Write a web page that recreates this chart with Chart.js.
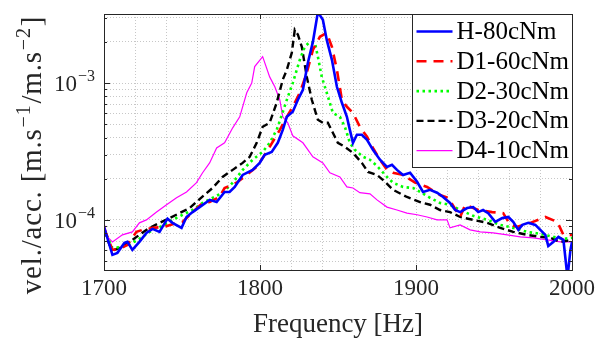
<!DOCTYPE html>
<html><head><meta charset="utf-8">
<script src="https://cdn.jsdelivr.net/npm/chart.js@4/dist/chart.umd.min.js"></script>
<style>html,body{margin:0;padding:0;background:#fff;}canvas{display:block;}</style>
</head><body>
<canvas id="c" width="604" height="342"></canvas>
<script>
// ---- data (frequency [Hz], vel./acc.) ----
const seriesLabels = ['H-80cNm','D1-60cNm','D2-30cNm','D3-20cNm','D4-10cNm'];
const xTickValues = [1700,1800,1900,2000];
const yTickValues = [1e-4,1e-3];
const yTickBase = ['10','10'];
const yTickExp = ['\u22124','\u22123'];
const xTitle = 'Frequency [Hz]';
const yTitleParts = [['vel./acc. [m.s',0],['\u22121',1],['/m.s',0],['\u22122',1],[']',0]];

const dataH = [[1700,8.9e-5],[1705.4,5.55e-5],[1708.6,5.74e-5],[1713.1,6.79e-5],[1715,6.9e-5],[1718.2,6.03e-5],[1722.7,6.9e-5],[1727.2,8.03e-5],[1731.1,8.59e-5],[1735.6,8.17e-5],[1737.5,8.89e-5],[1740.7,1.02e-4],[1743.9,9.51e-5],[1749.7,8.74e-5],[1752.9,1.05e-4],[1756.8,1.14e-4],[1761.3,1.24e-4],[1767.7,1.40e-4],[1772.2,1.35e-4],[1777.3,1.60e-4],[1780.5,1.60e-4],[1783.8,1.74e-4],[1788.9,2.13e-4],[1795.3,2.32e-4],[1799.8,2.61e-4],[1803,2.99e-4],[1807.5,3.14e-4],[1811.4,3.66e-4],[1814.6,4.55e-4],[1817.2,5.67e-4],[1821,6.17e-4],[1824.3,7.55e-4],[1827.5,8.93e-4],[1830.7,1.41e-3],[1833.9,2.00e-3],[1837.1,3.3e-3],[1840.3,2.90e-3],[1842.8,2.07e-3],[1846.1,1.48e-3],[1849.3,9.40e-4],[1852.5,7.18e-4],[1855.7,5.67e-4],[1857.6,4.55e-4],[1859.6,3.66e-4],[1862.1,4.19e-4],[1865.3,4.19e-4],[1868.6,3.85e-4],[1872.4,3.25e-4],[1876.9,2.75e-4],[1881.4,2.44e-4],[1884.6,2.53e-4],[1887.8,2.32e-4],[1891.7,2.13e-4],[1896.2,2.21e-4],[1900.7,1.90e-4],[1904.5,1.60e-4],[1909,1.66e-4],[1913.5,1.58e-4],[1917.4,1.47e-4],[1921.8,1.33e-4],[1925.1,1.18e-4],[1928.3,1.14e-4],[1932.8,1.22e-4],[1936.7,1.24e-4],[1939.9,1.14e-4],[1943,1.18e-4],[1946.3,1.12e-4],[1950.8,9.67e-5],[1955.3,1.03e-4],[1959.2,1.05e-4],[1962.3,9.67e-5],[1965.6,8.45e-5],[1968.2,9.19e-5],[1972,9.51e-5],[1976.5,9.19e-5],[1979.7,8.45e-5],[1982.9,7.77e-5],[1984.8,6.45e-5],[1988,6.9e-5],[1991.3,7.51e-5],[1994.5,7.14e-5],[1997.1,3.8e-5],[1999,6.03e-5],[2000,6.9e-5]];

const dataD1 = [[1700,8.74e-5],[1705.4,6.03e-5],[1709.9,6.14e-5],[1715,6.56e-5],[1720.8,8.17e-5],[1724.7,8.45e-5],[1731.1,8.74e-5],[1738.8,8.89e-5],[1746.5,9.51e-5],[1750.4,9.67e-5],[1756.8,1.14e-4],[1763.2,1.33e-4],[1767.7,1.35e-4],[1774.1,1.47e-4],[1777.3,1.71e-4],[1785,1.87e-4],[1791.5,2.13e-4],[1797.9,2.44e-4],[1804.3,3.14e-4],[1812.7,4.55e-4],[1817.2,5.67e-4],[1821,6.71e-4],[1825.5,8.49e-4],[1830,1.19e-3],[1833.9,1.75e-3],[1838.4,2.18e-3],[1842.8,2.33e-3],[1846.1,1.84e-3],[1849.3,1.25e-3],[1852.5,7.55e-4],[1855.7,6.71e-4],[1859.6,6.06e-4],[1864,4.79e-4],[1868.6,4.05e-4],[1872.4,3.36e-4],[1876.9,2.75e-4],[1881.4,2.32e-4],[1885.2,2.21e-4],[1891.7,2.13e-4],[1899.4,1.87e-4],[1907.1,1.74e-4],[1915.4,1.52e-4],[1920.6,1.45e-4],[1928.3,1.05e-4],[1931.5,1.29e-4],[1939.9,1.18e-4],[1948.8,1.14e-4],[1955.9,1.12e-4],[1960.4,9.19e-5],[1965,8.89e-5],[1973.3,9.51e-5],[1982.9,1.05e-4],[1990.6,9.67e-5],[1994.5,7.77e-5],[2000,7.77e-5]];

const dataD2 = [[1700,8.45e-5],[1705.4,6.24e-5],[1711.8,6.35e-5],[1718.2,6.79e-5],[1724.7,7.51e-5],[1731.1,8.45e-5],[1737.5,9.04e-5],[1743.9,1.00e-4],[1750.4,1.09e-4],[1756.8,1.18e-4],[1763.2,1.33e-4],[1769.6,1.45e-4],[1776,1.58e-4],[1782.5,1.87e-4],[1788.9,2.32e-4],[1795.3,2.75e-4],[1801.7,3.14e-4],[1806.2,3.66e-4],[1810.7,4.55e-4],[1814,5.86e-4],[1817.2,7.55e-4],[1821,1.00e-3],[1825.5,1.48e-3],[1828.7,1.84e-3],[1831.9,2.00e-3],[1835.2,1.97e-3],[1837.1,1.56e-3],[1839.6,1.11e-3],[1842.8,8.49e-4],[1846.7,6.06e-4],[1851.2,5.67e-4],[1854.4,4.79e-4],[1857.6,3.66e-4],[1860.8,3.25e-4],[1866,2.89e-4],[1870.5,2.75e-4],[1875,2.48e-4],[1881.4,2.06e-4],[1885.2,1.87e-4],[1891.7,1.74e-4],[1898.1,1.71e-4],[1902.6,1.60e-4],[1909,1.45e-4],[1915.4,1.33e-4],[1921.8,1.29e-4],[1928.3,1.18e-4],[1936.7,1.07e-4],[1945.6,1.00e-4],[1954,9.19e-5],[1962.3,8.74e-5],[1971.3,8.17e-5],[1979.7,7.90e-5],[1988,7.51e-5],[1994.5,7.26e-5],[2000,7.39e-5]];

const dataD3 = [[1700,8.45e-5],[1703.5,6.56e-5],[1706.7,6.03e-5],[1709.9,6.24e-5],[1716.3,6.9e-5],[1722.7,7.77e-5],[1729.2,8.74e-5],[1735.6,9.51e-5],[1742,1.03e-4],[1748.4,1.12e-4],[1754.9,1.22e-4],[1761.3,1.42e-4],[1769.6,1.71e-4],[1776,2.06e-4],[1782.5,2.32e-4],[1788.9,2.61e-4],[1793.4,2.89e-4],[1797.9,3.66e-4],[1801.7,4.79e-4],[1806.2,5.13e-4],[1810.7,7.18e-4],[1814.6,1.06e-3],[1817.2,1.25e-3],[1820.4,1.67e-3],[1822.3,2.45e-3],[1824.3,2.26e-3],[1826.8,1.84e-3],[1830,1.11e-3],[1833.2,7.55e-4],[1837.1,5.39e-4],[1840.3,5.13e-4],[1843.5,5.13e-4],[1846.7,4.33e-4],[1849.9,3.66e-4],[1854.4,3.42e-4],[1859.6,3.09e-4],[1865.3,2.61e-4],[1869.2,2.24e-4],[1875,2.13e-4],[1880.1,1.90e-4],[1885.2,1.66e-4],[1894.2,1.47e-4],[1902.6,1.35e-4],[1909,1.29e-4],[1915.4,1.18e-4],[1921.8,1.14e-4],[1928.3,1.05e-4],[1936.7,1.00e-4],[1945.6,9.51e-5],[1954,8.74e-5],[1962.3,8.17e-5],[1971.3,7.77e-5],[1979.7,7.51e-5],[1986.1,7.39e-5],[1992.5,6.9e-5],[2000,7.14e-5]];

const dataD4 = [[1700,9.51e-5],[1702.2,7.51e-5],[1705.4,6.9e-5],[1711.8,7.77e-5],[1718.2,8.17e-5],[1722.7,9.51e-5],[1727.2,1.00e-4],[1733.7,1.14e-4],[1740.1,1.29e-4],[1746.5,1.45e-4],[1752.9,1.60e-4],[1759.3,1.87e-4],[1763.2,2.21e-4],[1767.7,2.61e-4],[1772.2,3.36e-4],[1777.3,3.66e-4],[1782.5,4.71e-4],[1787,5.67e-4],[1791.5,8.49e-4],[1794.7,1.00e-3],[1796.6,1.32e-3],[1801.7,1.56e-3],[1806.2,1.11e-3],[1809.5,9.40e-4],[1812.7,7.55e-4],[1814.6,5.67e-4],[1817.8,5.13e-4],[1821,4.12e-4],[1827.5,3.66e-4],[1833.9,2.89e-4],[1840.3,2.61e-4],[1844.8,2.21e-4],[1851.2,2.06e-4],[1855.7,1.74e-4],[1859.6,1.71e-4],[1864,1.58e-4],[1870.5,1.55e-4],[1875,1.40e-4],[1881.4,1.24e-4],[1887.8,1.18e-4],[1894.2,1.12e-4],[1900.7,1.09e-4],[1907.1,1.05e-4],[1913.5,1.00e-4],[1919.9,1.00e-4],[1921.8,8.74e-5],[1928.3,9.19e-5],[1934.7,8.45e-5],[1941.2,8.17e-5],[1949.5,8.03e-5],[1958.5,7.77e-5],[1966.9,7.51e-5],[1975.2,7.39e-5],[1984.2,7.14e-5],[1992.5,6.9e-5],[2000,6.9e-5]];

// ---- styling ----
const FONT = "'Liberation Serif', 'DejaVu Serif', serif";
const AX = '#262626';
const styles = [
  {color:'#0000ff', width:2.6, dash:[]},
  {color:'#ff0000', width:2.6, dash:[10,7]},
  {color:'#00ff00', width:2.6, dash:[2.5,3.5]},
  {color:'#000000', width:2.4, dash:[7,4]},
  {color:'#ff00ff', width:1.2, dash:[]}
];
const allData = [dataH, dataD1, dataD2, dataD3, dataD4];
const datasets = allData.map((d,i)=>({
  label: seriesLabels[i],
  data: d.map(p=>({x:p[0], y:p[1]})),
  borderColor: styles[i].color,
  borderWidth: styles[i].width,
  borderDash: styles[i].dash,
  pointRadius: 0, tension: 0, fill: false,
  order: i
}));

function yGridValues(scale){
  const out=[];
  for (let d=-6; d<=-1; d++) for (let m=1;m<=9;m++){
    const v=m*Math.pow(10,d);
    if (v>=scale.min*1.0001 && v<=scale.max*0.9999) out.push(v);
  }
  return out;
}
function xGridValues(scale){
  const out=[];
  for (let v=scale.min; v<=scale.max+1e-9; v+=20) out.push(v);
  return out;
}
const isMajorY = v => yTickValues.some(t=>Math.abs(Math.log10(v)-Math.log10(t))<1e-6);

const framePlugin = {
  id:'frame',
  afterDatasetsDraw(chart){
    const {ctx, chartArea:a, scales} = chart;
    ctx.save();
    // inward ticks
    ctx.strokeStyle = AX; ctx.lineWidth = 1; ctx.setLineDash([]);
    ctx.beginPath();
    xTickValues.forEach(v=>{
      const x = Math.round(scales.x.getPixelForValue(v))+0.5;
      ctx.moveTo(x,a.bottom); ctx.lineTo(x,a.bottom-5);
      ctx.moveTo(x,a.top); ctx.lineTo(x,a.top+5);
    });
    yGridValues(scales.y).forEach(v=>{
      const y = Math.round(scales.y.getPixelForValue(v))+0.5;
      const L = isMajorY(v) ? 6 : 3;
      ctx.moveTo(a.left,y); ctx.lineTo(a.left+L,y);
      ctx.moveTo(a.right,y); ctx.lineTo(a.right-L,y);
    });
    ctx.stroke();
    // box
    ctx.strokeRect(Math.round(a.left)+0.5, Math.round(a.top)+0.5, Math.round(a.right-a.left), Math.round(a.bottom-a.top));

    // y tick labels with superscript exponents
    ctx.fillStyle = AX; ctx.textBaseline = 'alphabetic'; ctx.textAlign = 'left';
    yTickValues.forEach((v,i)=>{
      const y = scales.y.getPixelForValue(v);
      ctx.font = "16px " + FONT;
      const we = ctx.measureText(yTickExp[i]).width;
      ctx.font = "23px " + FONT;
      const wb = ctx.measureText(yTickBase[i]).width;
      const right = a.left - 9;
      ctx.fillText(yTickBase[i], right - we - wb - 1, y + 8);
      ctx.font = "16px " + FONT;
      ctx.fillText(yTickExp[i], right - we, y - 2);
    });

    // y axis title with superscripts (rotated)
    ctx.save();
    ctx.translate(41, (a.top + a.bottom)/2 + 13);
    ctx.rotate(-Math.PI/2);
    const fMain = "29px " + FONT, fSup = "20px " + FONT;
    try { ctx.letterSpacing = '0.8px'; } catch(e) {}
    let total = 0;
    const widths = yTitleParts.map(p=>{ ctx.font = p[1]?fSup:fMain; const w = ctx.measureText(p[0]).width + (p[1]?2:0); total += w; return w; });
    let xx = -total/2;
    yTitleParts.forEach((p,i)=>{
      ctx.font = p[1]?fSup:fMain;
      ctx.fillText(p[0], xx + (p[1]?1:0), p[1] ? -11 : 0);
      xx += widths[i];
    });
    ctx.restore();

    // legend
    const lw = 160, rowH = 29.8, lh = 153;
    const lx = Math.round(a.right - lw)+0.5, ly = Math.round(a.top)+0.5;
    ctx.fillStyle = '#fff';
    ctx.fillRect(lx, ly, lw, lh);
    ctx.strokeStyle = AX; ctx.lineWidth = 1;
    ctx.strokeRect(lx, ly, lw, lh);
    chart.data.datasets.forEach((ds,i)=>{
      const cy = ly + 17 + i*rowH;
      ctx.save();
      ctx.strokeStyle = ds.borderColor; ctx.lineWidth = ds.borderWidth;
      ctx.setLineDash(ds.borderDash||[]);
      ctx.beginPath(); ctx.moveTo(lx+4, cy); ctx.lineTo(lx+40, cy); ctx.stroke();
      ctx.restore();
      ctx.fillStyle = '#000';
      ctx.font = "25px " + FONT;
      ctx.textBaseline = 'middle'; ctx.textAlign = 'left';
      ctx.fillText(ds.label, lx+44, cy+1);
    });
    ctx.restore();
  }
};

new Chart(document.getElementById('c'), {
  type:'line',
  data:{datasets},
  plugins:[framePlugin],
  options:{
    responsive:false, animation:false, devicePixelRatio:1,
    layout:{padding:{top:14,right:32,left:0,bottom:0}},
    plugins:{legend:{display:false}, tooltip:{enabled:false}},
    scales:{
      x:{
        type:'linear', min:1700, max:2000, bounds:'data',
        afterBuildTicks: s=>{ s.ticks = xGridValues(s).map(v=>({value:v})); },
        ticks:{
          autoSkip:false, maxRotation:0, minRotation:0, padding:5,
          callback: v => xTickValues.includes(Math.round(v)) ? String(Math.round(v)) : '',
          font:{family:FONT, size:23}, color:AX
        },
        grid:{color:'rgba(0,0,0,0.22)', lineWidth:1, drawTicks:false},
        border:{display:false, dash:[1,2]},
        title:{display:true, text:xTitle, font:{family:FONT, size:27, lineHeight:1}, color:AX, padding:{top:0,bottom:4}},
        afterFit: s=>{ s.height = 72; s.paddingLeft = 0; s.paddingRight = 0; }
      },
      y:{
        type:'logarithmic', min:4.3e-5, max:3.2e-3, bounds:'data',
        afterBuildTicks: s=>{ s.ticks = yGridValues(s).map(v=>({value:v})); },
        ticks:{ autoSkip:false, padding:8, callback: () => '', font:{family:FONT, size:23}, color:AX },
        grid:{color:'rgba(0,0,0,0.22)', lineWidth:1, drawTicks:false},
        border:{display:false, dash:[1,2]},
        title:{display:false},
        afterFit: s=>{ s.width = 104; s.paddingTop = 0; s.paddingBottom = 0; }
      }
    }
  }
});
</script>
</body></html>
